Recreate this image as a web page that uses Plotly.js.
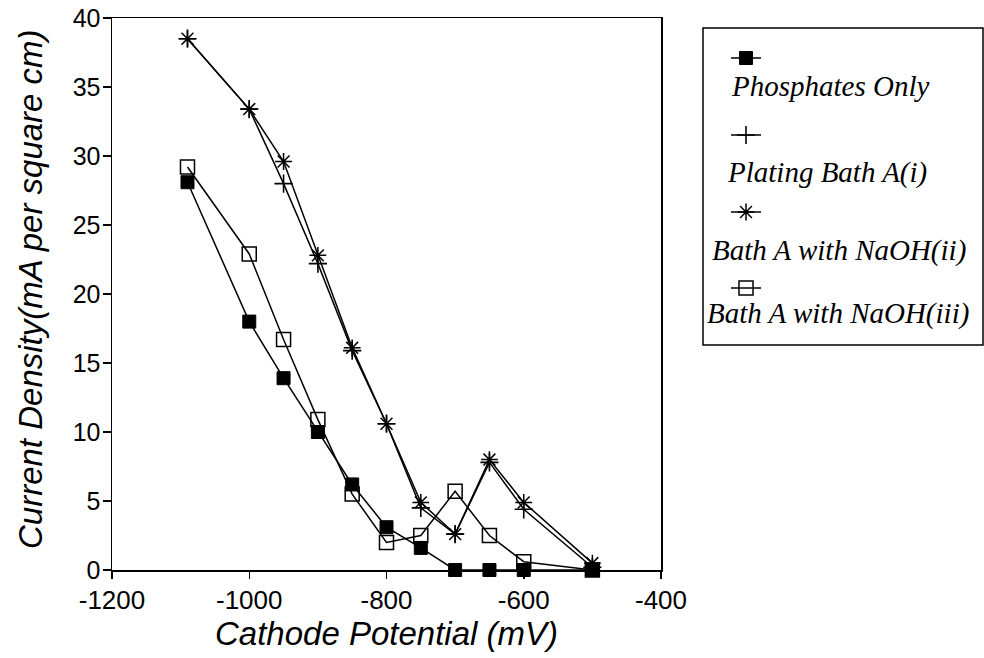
<!DOCTYPE html>
<html>
<head>
<meta charset="utf-8">
<script src="https://cdn.plot.ly/plotly-3.0.1.min.js"></script>
<style>html,body{margin:0;padding:0;background:#fff;}#chart{width:984px;height:658px;}</style>
</head>
<body>
<div id="chart"></div>
<script>
// Cathode potential (mV)
const potential = [-1090, -1000, -950, -900, -850, -800, -750, -700, -650, -600, -500];

// Current density (mA per square cm)
const phosphatesOnly = [28.1, 18.0, 13.9, 10.0, 6.2, 3.1, 1.6, 0, 0, 0, 0];
const platingBathA   = [38.5, 33.4, 28.0, 22.2, 15.9, 10.6, 4.5, 2.6, 7.8, 4.4, 0.2];
const bathNaOH_ii    = [38.5, 33.4, 29.6, 22.8, 16.1, 10.6, 4.9, 2.6, 8.0, 4.9, 0.5];
const bathNaOH_iii   = [29.2, 22.9, 16.7, 10.9, 5.5, 2.0, 2.5, 5.7, 2.5, 0.6, 0];

const seriesNames = ["Phosphates Only", "Plating Bath A(i)", "Bath A with NaOH(ii)", "Bath A with NaOH(iii)"];
const xTicks = [-1200, -1000, -800, -600, -400];
const xTitle = "Cathode Potential (mV)";
const yTitle = "Current Density(mA per square cm)";

const sansFont = "Liberation Sans, Arial, Helvetica, sans-serif";
const serifFont = "Liberation Serif, Times New Roman, serif";

const styles = [
  {symbol: "square", size: 13, color: "black", line: {color: "black", width: 1}},
  {symbol: "cross-thin-open", size: 13, color: "black", line: {color: "black", width: 1.6}},
  {symbol: "asterisk-open", size: 14, color: "black", line: {color: "black", width: 1.5}},
  {symbol: "square-open", size: 14, color: "black", line: {color: "black", width: 1.5}}
];
const values = [phosphatesOnly, platingBathA, bathNaOH_ii, bathNaOH_iii];

const traces = [];
values.forEach((ys, i) => {
  traces.push({
    type: "scatter", mode: "lines+markers",
    x: potential, y: ys, name: seriesNames[i],
    line: {color: "black", width: 1.5},
    marker: styles[i], showlegend: false, cliponaxis: false
  });
});
// legend glyphs (no data), one per separate legend box
const legendIds = ["legend", "legend2", "legend3", "legend4"];
values.forEach((ys, i) => {
  traces.push({
    type: "scatter", mode: "lines+markers",
    x: [null], y: [null], name: " ",
    line: {color: "black", width: 1.5},
    marker: styles[i], showlegend: true, legend: legendIds[i], hoverinfo: "skip"
  });
});

// pixel helpers for paper positioning of the legend panel
const L = 112, R = 661, T = 18, B = 570;
const px = x => (x - L) / (R - L);
const py = y => (B - y) / (B - T);

const legendY = [58, 135, 212, 288];
const textPos = [[729, 86], [725, 172], [710, 250], [705, 313]];

const annotations = seriesNames.map((t, i) => ({
  xref: "paper", yref: "paper", x: px(textPos[i][0]), y: py(textPos[i][1]),
  xanchor: "left", yanchor: "middle", showarrow: false,
  text: "<i>" + t + "</i>", font: {family: serifFont, size: 29, color: "black"}
}));
annotations.push({
  xref: "paper", yref: "paper", x: px(30), y: py(289),
  xanchor: "center", yanchor: "middle", showarrow: false, textangle: -90,
  text: "<i>" + yTitle + "</i>", font: {family: sansFont, size: 33, color: "black"}
});

const layout = {
  width: 984, height: 658,
  margin: {l: L, r: 984 - R, t: T, b: 658 - B, pad: 0},
  paper_bgcolor: "white", plot_bgcolor: "white",
  font: {family: sansFont, color: "black"},
  xaxis: {
    range: [-1200, -400], tickvals: xTicks, ticktext: xTicks.map(String),
    ticks: "outside", ticklen: 7, tickwidth: 1.5, tickcolor: "black",
    ticklabelstandoff: -1,
    showline: true, linecolor: "black", linewidth: 1.5, mirror: true,
    showgrid: false, zeroline: false,
    tickfont: {family: sansFont, size: 26, color: "black"},
    title: {text: "<i>" + xTitle + "</i>", font: {family: sansFont, size: 33, color: "black"}, standoff: 2}
  },
  yaxis: {
    range: [0, 40], dtick: 5, tick0: 0,
    ticks: "outside", ticklen: 8, tickwidth: 1.5, tickcolor: "black",
    ticklabelstandoff: -3,
    showline: true, linecolor: "black", linewidth: 1.5, mirror: true,
    showgrid: false, zeroline: false,
    tickfont: {family: sansFont, size: 25, color: "black"}
  },
  shapes: [{
    type: "rect", xref: "paper", yref: "paper",
    x0: px(703), x1: px(983), y0: py(345), y1: py(28),
    line: {color: "black", width: 1.5}, fillcolor: "rgba(0,0,0,0)"
  }],
  annotations: annotations
};
legendIds.forEach((id, i) => {
  layout[id] = {
    x: px(726), y: py(legendY[i]), xanchor: "left", yanchor: "middle",
    bgcolor: "rgba(0,0,0,0)", borderwidth: 0, font: {size: 12}
  };
});

Plotly.newPlot("chart", traces, layout, {staticPlot: true, displayModeBar: false});
</script>
</body>
</html>
